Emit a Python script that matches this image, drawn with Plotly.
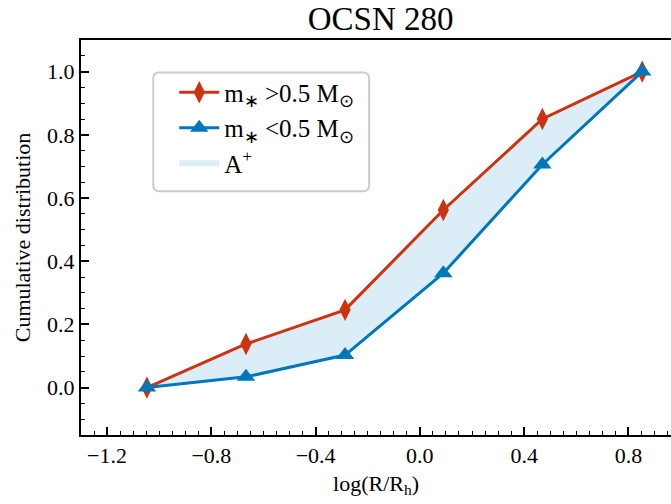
import plotly.graph_objects as go

x_vals = [-1.047, -0.667, -0.287, 0.090, 0.470, 0.853]
y_high = [0.0, 0.138, 0.246, 0.562, 0.850, 1.0]
y_low = [0.0, 0.034, 0.103, 0.362, 0.706, 1.0]

label_high = "m<sub>∗</sub> >0.5 M<sub>⊙</sub>"
label_low = "m<sub>∗</sub> <0.5 M<sub>⊙</sub>"
label_fill = "A<sup>+</sup>"

RED = "#CC3311"
BLUE = "#0077BB"
FILL = "rgb(219,237,247)"
FONT = "Liberation Serif"

W, H = 671, 504
L, R, T, B = 80.7, 0, 39.5, 69

fig = go.Figure()
fig.add_trace(go.Scatter(
    x=x_vals + x_vals[::-1], y=y_high + y_low[::-1],
    fill="toself", fillcolor=FILL, mode="none", name=label_fill,
    legendrank=3, hoverinfo="skip"))
fig.add_trace(go.Scatter(
    x=x_vals, y=y_high, mode="lines+markers", name=label_high,
    line=dict(color=RED, width=3),
    marker=dict(symbol="diamond-tall", size=16, color=RED),
    legendrank=1))
fig.add_trace(go.Scatter(
    x=x_vals, y=y_low, mode="lines+markers", name=label_low,
    line=dict(color=BLUE, width=3),
    marker=dict(symbol="triangle-up", size=16, color=BLUE),
    legendrank=2))

pw = W - L - R
ph = H - T - B

def px_x(p):
    return (p - L) / pw

def px_y(p):
    return (H - B - p) / ph

# rounded legend frame (paper coords)
x0, x1, y0, y1 = px_x(153), px_x(369), px_y(191), px_y(72)
rx = 6 / pw
ry = 6 / ph
path = (f"M {x0+rx},{y1} L {x1-rx},{y1} Q {x1},{y1} {x1},{y1-ry} "
        f"L {x1},{y0+ry} Q {x1},{y0} {x1-rx},{y0} L {x0+rx},{y0} "
        f"Q {x0},{y0} {x0},{y0+ry} L {x0},{y1-ry} Q {x0},{y1} {x0+rx},{y1} Z")
fig.add_shape(type="path", path=path, xref="paper", yref="paper",
              line=dict(color="#CCCCCC", width=2), fillcolor="rgba(255,255,255,0.8)",
              layer="below")

axis_common = dict(
    showline=True, linecolor="black", linewidth=2,
    ticks="inside", ticklen=8, tickwidth=1.5, tickcolor="black",
    showgrid=False, zeroline=False,
    tickfont=dict(family=FONT, size=22, color="black"),
)

fig.update_layout(
    width=W, height=H,
    margin=dict(l=L, r=R, t=T, b=B, autoexpand=False),
    paper_bgcolor="white", plot_bgcolor="white",
    font=dict(family=FONT, size=22, color="black"),
    title=dict(text="OCSN 280", x=(380.6) / W, xanchor="center",
               y=1 - 18 / H, yanchor="middle", yref="container",
               font=dict(family=FONT, size=33, color="black")),
    xaxis=dict(range=[-1.3, -1.3 + pw / 260.8], tickmode="array",
               tickvals=[-1.2, -0.8, -0.4, 0.0, 0.4, 0.8],
               ticktext=["−1.2", "−0.8", "−0.4", "0.0", "0.4", "0.8"],
               mirror=True,
               minor=dict(ticks="inside", ticklen=4, tickwidth=1, tickcolor="black", dtick=0.05, tick0=0),
               title=dict(text="log(R/R<sub>h</sub>)", standoff=8,
                          font=dict(family=FONT, size=22)),
               **axis_common),
    yaxis=dict(range=[-0.15, 1.1], tickmode="array",
               tickvals=[0.0, 0.2, 0.4, 0.6, 0.8, 1.0],
               ticktext=["0.0", "0.2", "0.4", "0.6", "0.8", "1.0"],
               mirror=False,
               minor=dict(ticks="inside", ticklen=4, tickwidth=1, tickcolor="black", dtick=0.05, tick0=0),
               title=dict(text="Cumulative distribution", standoff=10,
                          font=dict(family=FONT, size=22)),
               **axis_common),
    legend=dict(x=px_x(174), y=px_y(69), xanchor="left", yanchor="top",
                bgcolor="rgba(0,0,0,0)", borderwidth=0,
                font=dict(family=FONT, size=25, color="black"),
                tracegroupgap=0, itemwidth=40),
    showlegend=True,
)

fig.write_html("out.html")
